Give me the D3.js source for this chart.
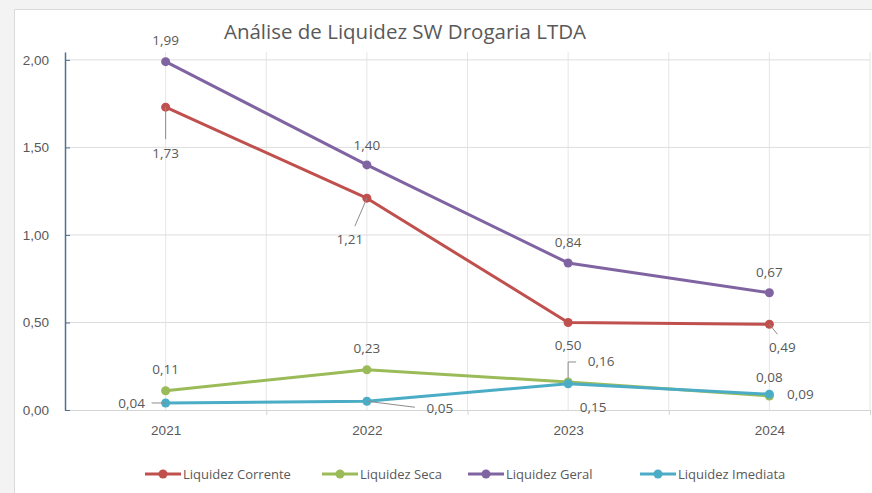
<!DOCTYPE html>
<html>
<head>
<meta charset="utf-8">
<script src="https://cdn.jsdelivr.net/npm/d3@7"></script>
<style>
  body { margin: 0; background: #f3f3f3; }
  svg { display: block; font-family: "Open Sans", "Lato", sans-serif; }
</style>
</head>
<body>
<svg id="chart" width="872" height="493"></svg>
<script>
// data
const years = ["2021", "2022", "2023", "2024"];
const corrente = [1.73, 1.21, 0.50, 0.49];
const seca = [0.11, 0.23, 0.16, 0.08];
const geral = [1.99, 1.40, 0.84, 0.67];
const imediata = [0.04, 0.05, 0.15, 0.09];
const yTicks = [0, 0.5, 1, 1.5, 2];

const svg = d3.select("#chart");

// chart frame
svg.append("rect")
  .attr("x", 14.5).attr("y", 9.5)
  .attr("width", 870).attr("height", 490)
  .attr("fill", "#fff")
  .attr("stroke", "#dadada");

const x = d3.scaleLinear().domain([-0.5, years.length - 0.5]).range([65, 870]);
const y = d3.scaleLinear().domain([0, 2.045]).range([410, 52]);
const halfSteps = d3.range(1, years.length * 2 + 1).map(i => i / 2 - 0.5);

// gridlines
const grid = svg.append("g");
grid.selectAll(".vg")
  .data(halfSteps)
  .enter().append("line")
  .attr("x1", d => x(d)).attr("x2", d => x(d))
  .attr("y1", y(0)).attr("y2", y.range()[1])
  .attr("stroke", "#e6e6e6");
grid.selectAll(".hg")
  .data(yTicks.slice(1))
  .enter().append("line")
  .attr("x1", x.range()[0]).attr("x2", x.range()[1])
  .attr("y1", d => y(d)).attr("y2", d => y(d))
  .attr("stroke", "#dedede");

// x axis
const xAxis = d3.axisBottom(x)
  .tickValues(halfSteps)
  .tickSize(0)
  .tickSizeOuter(0)
  .tickFormat(d => Number.isInteger(d) ? years[d] : "");
const gx = svg.append("g").attr("transform", `translate(0,${y(0)})`).call(xAxis);
gx.select(".domain").attr("stroke", "#d4d4d4");
gx.selectAll("text").attr("fill", "#595959").attr("font-size", 13.5).attr("dy", "1.6em");
gx.selectAll(".tick")
  .filter(d => !Number.isInteger(d))
  .append("line").attr("y2", 5).attr("stroke", "#d4d4d4");

// y axis
const yAxis = d3.axisLeft(y)
  .tickValues(yTicks)
  .tickSizeInner(-5)
  .tickSizeOuter(0)
  .tickPadding(16)
  .tickFormat(d => d3.format(".2f")(d).replace(".", ","));
const gy = svg.append("g").attr("transform", `translate(${x.range()[0]},0)`).call(yAxis);
gy.select(".domain").attr("stroke", "#4f7194").attr("stroke-width", 1.5);
gy.selectAll(".tick line").attr("stroke", "#4f7194");
gy.selectAll("text").attr("fill", "#595959").attr("font-size", 13.5).attr("text-anchor", "end");

// title
svg.append("text")
  .attr("x", 405).attr("y", 39)
  .attr("text-anchor", "middle")
  .attr("font-size", 20.5)
  .attr("fill", "#595959")
  .text("Análise de Liquidez SW Drogaria LTDA");

// series + label placement (dx, dy from point, leader line end)
const series = [
  { name: "Liquidez Corrente", values: corrente, color: "#c0504d",
    labels: [[0, 46, [0, 32]], [-17, 41, [-12, 28]], [0, 23], [13, 23, [8, 10]]] },
  { name: "Liquidez Seca", values: seca, color: "#9bbb59",
    labels: [[0, -21], [0, -21], null, [0, -19]] },
  { name: "Liquidez Geral", values: geral, color: "#8064a2",
    labels: [[0, -21], [0, -20], [0, -21], [0, -20]] },
  { name: "Liquidez Imediata", values: imediata, color: "#4bacc6",
    labels: [[-34, 0, [-14, 0]], [73, 7, [48, 6]], [25, 24], [31, 0]] }
];
// the 0,16 (seca 2023) label sits above-right with an elbow leader
const secaLabel2023 = { dx: 33, dy: -21 };

const line = d3.line().x((d, i) => x(i)).y(d => y(d));
const fmt = v => d3.format(".2f")(v).replace(".", ",");

series.forEach(s => {
  svg.append("path")
    .datum(s.values)
    .attr("d", line)
    .attr("fill", "none")
    .attr("stroke", s.color)
    .attr("stroke-width", 3)
    .attr("stroke-linejoin", "round");
  svg.selectAll(null)
    .data(s.values)
    .enter().append("circle")
    .attr("cx", (d, i) => x(i)).attr("cy", d => y(d))
    .attr("r", 4.5)
    .attr("fill", s.color);
});

const labels = svg.append("g").attr("font-size", 13.5).attr("fill", "#595959");
series.forEach(s => {
  s.values.forEach((v, i) => {
    const px = x(i), py = y(v);
    let lab = s.labels[i];
    let dx, dy;
    if (lab) {
      dx = lab[0]; dy = lab[1];
      if (lab[2]) {
        labels.append("line")
          .attr("x1", px).attr("y1", py)
          .attr("x2", px + lab[2][0]).attr("y2", py + lab[2][1])
          .attr("stroke", "#8c8c8c");
      }
    } else {
      dx = secaLabel2023.dx; dy = secaLabel2023.dy;
      labels.append("polyline")
        .attr("points", `${px},${py - 4} ${px},${py - 20} ${px + 8},${py - 20}`)
        .attr("fill", "none")
        .attr("stroke", "#8c8c8c");
    }
    labels.append("text")
      .attr("x", px + dx).attr("y", py + dy)
      .attr("dy", "0.35em")
      .attr("text-anchor", "middle")
      .text(fmt(v));
  });
});

// legend
const legendX = [145, 322, 468, 640];
const legend = svg.append("g").attr("transform", "translate(0,474)");
series.forEach((s, i) => {
  const g = legend.append("g").attr("transform", `translate(${legendX[i]},0)`);
  g.append("line").attr("x1", 0).attr("x2", 36).attr("stroke", s.color).attr("stroke-width", 3);
  g.append("circle").attr("cx", 18).attr("r", 4.5).attr("fill", s.color);
  g.append("text").attr("x", 38).attr("dy", "0.35em")
    .attr("font-size", 13).attr("fill", "#595959").text(s.name);
});
</script>
</body>
</html>
